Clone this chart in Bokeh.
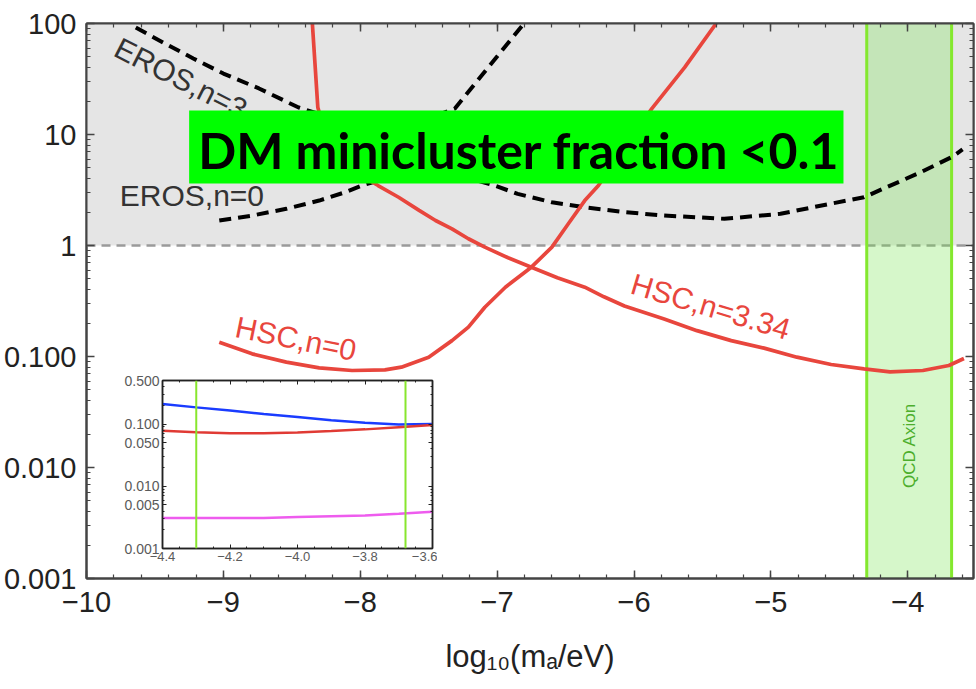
import numpy as np
from bokeh.plotting import figure
from bokeh.models import (Range1d, LinearAxis, LogAxis, FixedTicker, SingleIntervalTicker,
                          BoxAnnotation, Span, Label, CustomJSTickFormatter)
from bokeh.embed import file_html
from bokeh.resources import INLINE

# ---------------- data ----------------
x_ticks = [-10, -9, -8, -7, -6, -5, -4]
x_tick_labels = ["\u221210", "\u22129", "\u22128", "\u22127", "\u22126", "\u22125", "\u22124"]
y_ticks = [0.001, 0.01, 0.1, 1, 10, 100]
y_tick_labels = ["0.001", "0.010", "0.100", "1", "10", "100"]

eros_n3_x = [-9.64, -9.44, -9.22, -9.00, -8.74, -8.45, -8.2, -7.9, -7.6, -7.31, -7.06, -6.81]
eros_n3_y = [92, 67.4, 48.4, 35.4, 26.0, 17.5, 14.0, 12.0, 12.5, 17.1, 41.0, 98]

eros_n0_x = [-9.03, -8.79, -8.54, -8.30, -8.11, -7.99, -7.75, -7.5, -7.25, -7.02, -6.85,
             -6.60, -6.36, -6.07, -5.78, -5.34, -4.93, -4.57, -4.32, -4.16, -3.91,
             -3.67, -3.60]
eros_n0_y = [1.68, 1.86, 2.14, 2.54, 3.02, 3.47, 4.2, 4.6, 4.2, 3.47, 2.92,
             2.45, 2.21, 2.0, 1.86, 1.74, 1.93, 2.37, 2.72, 3.33, 4.54,
             6.34, 7.33]

hsc_n334_x = [-8.35, -8.33, -8.31, -8.25, -8.14, -8.02, -7.87, -7.72, -7.57, -7.45, -7.33,
              -7.21, -7.09, -6.92, -6.75, -6.56, -6.36, -6.22, -6.07, -5.78, -5.54,
              -5.29, -5.05, -4.81, -4.56, -4.32, -4.13, -3.89, -3.70, -3.59]
hsc_n334_y = [100, 41.9, 17.5, 9.8, 6.2, 4.46, 3.47, 2.72, 2.07, 1.68, 1.41,
              1.15, 0.966, 0.775, 0.638, 0.512, 0.421, 0.345, 0.285, 0.218, 0.171,
              0.139, 0.119, 0.0986, 0.0847, 0.0774, 0.0727, 0.0748, 0.083, 0.096]

hsc_n0_x = [-9.03, -8.79, -8.54, -8.30, -8.06, -7.82, -7.70, -7.50, -7.33, -7.21, -7.09,
            -6.94, -6.75, -6.60, -6.48, -6.36, -6.26, -6.07, -5.87, -5.63, -5.40]
hsc_n0_y = [0.1345, 0.1057, 0.0889, 0.0791, 0.0748, 0.0757, 0.0802, 0.0986, 0.139, 0.184,
            0.278, 0.421, 0.638, 0.966, 1.57, 2.54, 3.47, 7.6, 17.1, 40.2, 100]

qcd_band = [-4.3, -3.68]
excluded_above = 1

inset_x_ticks = [-4.4, -4.2, -4.0, -3.8, -3.6]
inset_x_labels = ["\u22124.4", "\u22124.2", "\u22124.0", "\u22123.8", "\u22123.6"]
inset_y_ticks = [0.001, 0.005, 0.01, 0.05, 0.1, 0.5]
inset_y_labels = ["0.001", "0.005", "0.010", "0.050", "0.100", "0.500"]
inset_x = [-4.4, -4.3, -4.2, -4.1, -4.0, -3.9, -3.8, -3.7, -3.6]
inset_blue = [0.21, 0.185, 0.165, 0.145, 0.13, 0.115, 0.105, 0.098, 0.10]
inset_red = [0.078, 0.074, 0.071, 0.071, 0.073, 0.077, 0.082, 0.089, 0.096]
inset_magenta = [0.0031, 0.0031, 0.0031, 0.0031, 0.0032, 0.0033, 0.0034, 0.0036, 0.0039]

FONT = "Liberation Sans"
RED = "#e8463d"
AXC = "#444444"
BLANK = CustomJSTickFormatter(code="return ''")

# ---------------- main figure ----------------
p = figure(width=975, frame_height=555, x_range=Range1d(-10, -3.52), y_range=Range1d(0.001, 100),
           y_axis_type="log", output_backend="svg", toolbar_location=None,
           min_border_top=23, min_border_right=2, min_border_left=0, min_border_bottom=0,
           background_fill_color="white", border_fill_color="white",
           outline_line_color=AXC, outline_line_width=2)
p.xgrid.visible = False
p.ygrid.visible = False

xt = SingleIntervalTicker(interval=1, num_minor_ticks=5)
yt = FixedTicker(ticks=y_ticks,
                 minor_ticks=[m * 10.0 ** e for e in range(-3, 2) for m in range(2, 10)])

def style_axis(ax, labels=True):
    ax.axis_line_color = AXC
    ax.axis_line_width = 2
    ax.major_tick_line_color = AXC
    ax.minor_tick_line_color = AXC
    ax.major_tick_line_width = 1.5
    ax.minor_tick_line_width = 1.2
    ax.major_tick_in = 8
    ax.major_tick_out = 0
    ax.minor_tick_in = 4
    ax.minor_tick_out = 0
    ax.major_label_text_font = FONT
    ax.major_label_text_font_size = "29px"
    ax.major_label_text_color = "#222222"
    if not labels:
        ax.formatter = BLANK
        ax.major_label_standoff = 0

p.xaxis.ticker = xt
p.xaxis.major_label_overrides = dict(zip(x_ticks, x_tick_labels))
p.yaxis.ticker = yt
p.yaxis.major_label_overrides = dict(zip(y_ticks, y_tick_labels))
style_axis(p.xaxis[0])
style_axis(p.yaxis[0])
p.xaxis.major_label_standoff = 13
p.yaxis.major_label_standoff = 10
p.xaxis.axis_label = "log\u2081\u2080(m\u2090/eV)"
p.xaxis.axis_label_text_font = FONT
p.xaxis.axis_label_text_font_style = "normal"
p.xaxis.axis_label_text_font_size = "31px"
p.xaxis.axis_label_text_color = "#222222"
p.xaxis.axis_label_standoff = 24

top_ax = LinearAxis(ticker=xt)
style_axis(top_ax, labels=False)
p.add_layout(top_ax, "above")
right_ax = LogAxis(ticker=yt)
style_axis(right_ax, labels=False)
p.add_layout(right_ax, "right")

# shaded excluded region and reference line
p.add_layout(BoxAnnotation(bottom=excluded_above, fill_color="#e5e5e5", fill_alpha=1.0,
                           line_alpha=0, level="underlay"))
p.add_layout(Span(location=excluded_above, dimension="width", line_color="#9a9a9a",
                  line_dash="9 6", line_width=2.5, level="underlay"))
# QCD axion band
p.add_layout(BoxAnnotation(left=qcd_band[0], right=qcd_band[1], fill_color="#78e650",
                           fill_alpha=0.3, line_alpha=0, level="underlay"))
for loc in qcd_band:
    p.add_layout(Span(location=loc, dimension="height", line_color="#84e82e",
                      line_width=3, level="underlay"))

# curves
p.line(eros_n3_x, eros_n3_y, line_color="black", line_width=4, line_dash="12 7")
p.line(eros_n0_x, eros_n0_y, line_color="black", line_width=4, line_dash="12 7")
p.line(hsc_n334_x, hsc_n334_y, line_color=RED, line_width=3.7)
p.line(hsc_n0_x, hsc_n0_y, line_color=RED, line_width=3.7)

# curve labels
p.add_layout(Label(x=-9.31, y=32, text="EROS,n=3", angle=-0.47, text_align="center",
                   text_baseline="middle", text_font=FONT, text_font_size="30px",
                   text_color="#333333"))
p.add_layout(Label(x=-9.23, y=2.82, text="EROS,n=0", text_align="center",
                   text_baseline="middle", text_font=FONT, text_font_size="30px",
                   text_color="#333333"))
p.add_layout(Label(x=-8.47, y=0.145, text="HSC,n=0", angle=-0.2, text_align="center",
                   text_baseline="middle", text_font=FONT, text_font_size="30px",
                   text_color=RED))
p.add_layout(Label(x=-5.44, y=0.282, text="HSC,n=3.34", angle=-0.29, text_align="center",
                   text_baseline="middle", text_font=FONT, text_font_size="30px",
                   text_color=RED))
p.add_layout(Label(x=sum(qcd_band) / 2, y=0.0158, text="QCD Axion", angle=np.pi / 2,
                   text_align="center", text_baseline="middle", text_font=FONT,
                   text_font_size="17px", text_color="#4cae2c"))
p.add_layout(Label(x=-6.86, y=7.7, text="DM minicluster fraction <0.1", text_align="center",
                   text_baseline="middle", text_font="Lato",
                   text_font_style="bold", text_font_size="50px", text_color="black",
                   background_fill_color="#00ff00", background_fill_alpha=1.0,
                   padding=(9, 4, 9, 4)))

# ---------------- inset ----------------
inset = figure(width=320, height=206, x_range=Range1d(-4.4, -3.6),
               y_range=Range1d(0.001, 0.5), y_axis_type="log", output_backend="svg",
               toolbar_location=None, min_border_left=45, min_border_top=13,
               min_border_right=5, min_border_bottom=25,
               background_fill_color="white", border_fill_alpha=0,
               outline_line_color="#222222", outline_line_width=1.5,
               styles={"position": "absolute", "left": "117px", "top": "367px"})
inset.xgrid.visible = False
inset.ygrid.visible = False
ixt = FixedTicker(ticks=inset_x_ticks,
                  minor_ticks=[-4.4 + 0.05 * i for i in range(17)])
iyt = FixedTicker(ticks=inset_y_ticks,
                  minor_ticks=[m * 10.0 ** e for e in range(-3, 0) for m in range(1, 10)])

def style_inset_axis(ax, labels=True, size="14px"):
    ax.axis_line_color = "#222222"
    ax.axis_line_width = 1.5
    ax.major_tick_line_color = "#222222"
    ax.minor_tick_line_color = "#222222"
    ax.major_tick_in = 4
    ax.major_tick_out = 0
    ax.minor_tick_in = 2
    ax.minor_tick_out = 0
    ax.major_label_text_font = FONT
    ax.major_label_text_font_size = size
    ax.major_label_text_color = "#5a5a5a"
    ax.major_label_standoff = 3
    if not labels:
        ax.formatter = BLANK
        ax.major_label_standoff = 0

inset.xaxis.ticker = ixt
inset.xaxis.major_label_overrides = dict(zip(inset_x_ticks, inset_x_labels))
inset.yaxis.ticker = iyt
inset.yaxis.major_label_overrides = dict(zip(inset_y_ticks, inset_y_labels))
style_inset_axis(inset.xaxis[0], size="13px")
style_inset_axis(inset.yaxis[0], size="14px")
it = LinearAxis(ticker=ixt)
style_inset_axis(it, labels=False)
inset.add_layout(it, "above")
ir = LogAxis(ticker=iyt)
style_inset_axis(ir, labels=False)
inset.add_layout(ir, "right")

for loc in qcd_band:
    inset.add_layout(Span(location=loc, dimension="height", line_color="#88e62e",
                          line_width=2))
inset.line(inset_x, inset_blue, line_color="#1a3cff", line_width=2.5)
inset.line(inset_x, inset_red, line_color="#e03a34", line_width=2.5)
inset.line(inset_x, inset_magenta, line_color="#ee5cee", line_width=2.5)

open("out.html", "w").write(file_html([p, inset], INLINE))
